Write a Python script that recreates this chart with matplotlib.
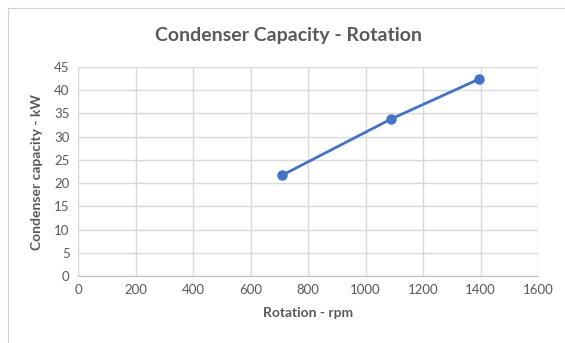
import matplotlib.pyplot as plt
from matplotlib.patches import Rectangle

rotation_rpm = [710, 1089, 1395]
capacity_kw = [21.7, 33.8, 42.4]
x_ticks = [0, 200, 400, 600, 800, 1000, 1200, 1400, 1600]
y_ticks = [0, 5, 10, 15, 20, 25, 30, 35, 40, 45]

plt.rcParams['font.family'] = ['Lato', 'DejaVu Sans']
grey = '#595959'

fig = plt.figure(figsize=(5.65, 3.43), dpi=100)
# chart frame
fig.patches.append(Rectangle((8 / 565, -0.01), 1.0, 1 - 8 / 343 + 0.01,
                             transform=fig.transFigure, fill=False,
                             edgecolor='#d0d0d0', linewidth=0.8))

ax = fig.add_axes([78 / 565, 1 - 276 / 343, 460 / 565, 209 / 343])
ax.plot(rotation_rpm, capacity_kw, color='#4472C4', linewidth=2,
        marker='o', markersize=6.5, zorder=3)

ax.set_xlim(0, 1600)
ax.set_ylim(0, 45)
ax.set_xticks(x_ticks)
ax.set_yticks(y_ticks)
ax.grid(True, color='#d9d9d9', linewidth=1)
ax.set_axisbelow(True)
for s in ['top', 'right', 'left']:
    ax.spines[s].set_visible(False)
ax.spines['bottom'].set_color('#bfbfbf')
ax.tick_params(length=0, labelsize=9.5, colors=grey, pad=6)

ax.set_xlabel('Rotation - rpm', fontsize=10, fontweight='bold', color=grey, labelpad=8)
ax.set_ylabel('Condenser capacity - kW', fontsize=10, fontweight='bold', color=grey, labelpad=8)
fig.text(0.51, 1 - 35 / 343, 'Condenser Capacity - Rotation', ha='center', va='center',
         fontsize=14, fontweight='bold', color=grey)

fig.savefig('out.png', dpi=100)
